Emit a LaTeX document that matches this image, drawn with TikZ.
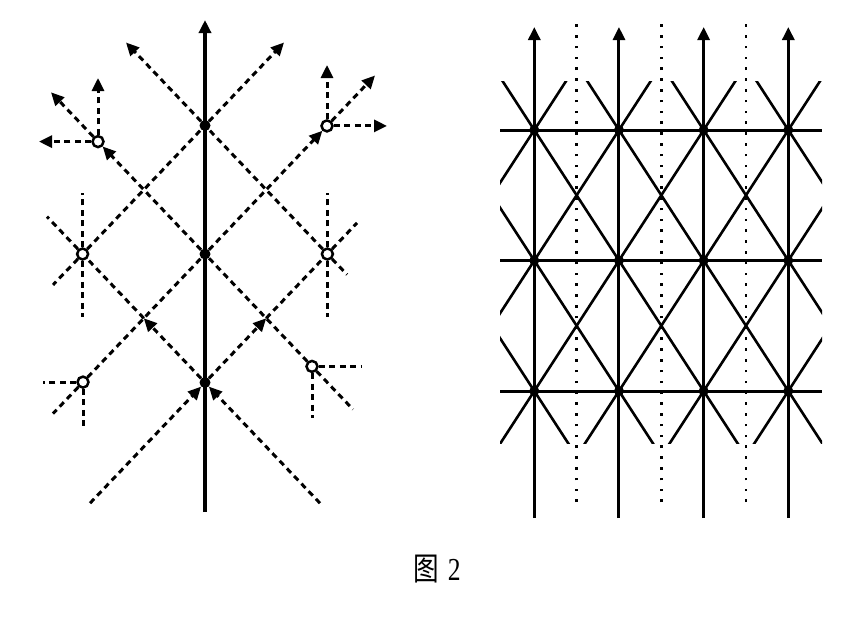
\documentclass[tikz,border=0pt]{standalone}
\usepackage{graphicx}
\usepackage{fontspec}
\setmainfont{Liberation Serif}
\newfontfamily\cjk{Noto Sans CJK SC}
\usepackage{tikz}
\usetikzlibrary{arrows.meta}
\tikzstyle{dot} = [circle, minimum size=11pt, fill, inner sep=0pt]
\tikzstyle{gdot} = [circle, minimum size=10pt, fill, inner sep=0pt]
\tikzstyle{ring} = [circle, minimum size=11pt, draw, line width=2.5pt, fill=white, inner sep=0pt]
\tikzstyle{flow} = [dash pattern=on 6pt off 4.5pt, line width=3pt]
\tikzstyle{arr} = [-{Triangle[length=13pt,width=12pt]}]
\tikzstyle{dotline} = [dash pattern=on 2.6pt off 8.2pt, line width=2.5pt]

\begin{document}
\begin{tikzpicture}[x=1pt,y=-1pt]
  \useasboundingbox (0,0) rectangle (856,622);
  % left picture: points on the axis and on the lattice
  \node[dot] (T) at (205,125.5) {};
  \node[dot] (M) at (205,254) {};
  \node[dot] (B) at (205,382.5) {};
  \node[ring] (LM) at (82.6,254) {};
  \node[ring] (RM) at (327.4,254) {};
  \node[ring] (UL) at (98,141.6) {};
  \node[ring] (UR) at (327,125.9) {};
  \node[ring] (LL) at (83,382.1) {};
  \node[ring] (LR) at (312,366.4) {};
  \coordinate (CLL) at (143.8,318.25);
  \coordinate (CLR) at (266.2,318.25);
  \coordinate (ax0) at (205,512);
  \coordinate (ax1) at (205,20);
  \coordinate (tl) at (126,42.5);
  \coordinate (tr) at (284,42.5);
  \coordinate (bl) at (90,503.2);
  \coordinate (br) at (320,503.2);
  \draw[line width=4pt,arr] (ax0) -- (ax1);
  % flow coming up from below
  \draw[flow,arr] (bl) -- (B);
  \draw[flow,arr] (br) -- (B);
  \draw[flow,arr] (B) -- (CLR);
  \draw[flow,arr] (B) -- (CLL);
  \draw[flow] (CLR) -- (RM);
  \draw[flow] (CLL) -- (LM);
  \draw[flow] (LM) -- (T);
  \draw[flow] (RM) -- (T);
  \draw[flow,arr] (T) -- (tl);
  \draw[flow,arr] (T) -- (tr);
  \draw[flow] (LL) -- (M);
  \draw[flow] (LR) -- (M);
  \draw[flow,arr] (M) -- (UL);
  \draw[flow,arr] (M) -- (UR);
  % short rays round the open points
  \draw[flow] (LM) -- (47,216.6);
  \draw[flow] (LM) -- (53,284.9);
  \draw[flow] (LM) -- (82.6,193);
  \draw[flow] (LM) -- (82.6,317);
  \draw[flow] (RM) -- (357,222.9);
  \draw[flow] (RM) -- (347,274.6);
  \draw[flow] (RM) -- (327.4,193);
  \draw[flow] (RM) -- (327.4,317);
  \draw[flow] (LL) -- (43,382.1);
  \draw[flow] (LL) -- (83,428);
  \draw[flow] (LL) -- (53,413.6);
  \draw[flow] (LR) -- (362,366.4);
  \draw[flow] (LR) -- (312,418);
  \draw[flow] (LR) -- (353,409.4);
  \draw[flow,arr] (UL) -- (98,78);
  \draw[flow,arr] (UL) -- (51,92.3);
  \draw[flow,arr] (UL) -- (39,141.6);
  \draw[flow,arr] (UR) -- (327,65);
  \draw[flow,arr] (UR) -- (375,75.5);
  \draw[flow,arr] (UR) -- (387,125.9);

  % right picture: the grid
  \foreach \i in {0,1,2}
    \draw[dotline] ({576.6+84.67*\i},502) -- ({576.6+84.67*\i},17);
  \begin{scope}
    \clip (500,81) rectangle (822,443);
    \foreach \n in {-3,...,3}
      \draw[line width=2.6pt] ({534.3+84.67*(\n-1)},-0.5) -- ({534.3+84.67*(\n+3)},521.5);
    \foreach \n in {0,...,6}
      \draw[line width=2.6pt] ({534.3+84.67*(\n+1)},-0.5) -- ({534.3+84.67*(\n-3)},521.5);
  \end{scope}
  \foreach \y in {130,260.5,391}
    \draw[line width=3pt] (500,\y) -- (822,\y);
  \foreach \i in {0,...,3} {
    \draw[line width=3pt,arr] ({534.3+84.67*\i},518) -- ({534.3+84.67*\i},27);
    \foreach \y [count=\j] in {130,260.5,391}
      \node[gdot] (g\i\j) at ({534.3+84.67*\i},\y) {};
  }

  \node (cap) at (437,569) {\fontsize{32}{32}\selectfont\scalebox{0.8}[1]{{\cjk 图}\hspace{11pt}2}};
\end{tikzpicture}
\end{document}
